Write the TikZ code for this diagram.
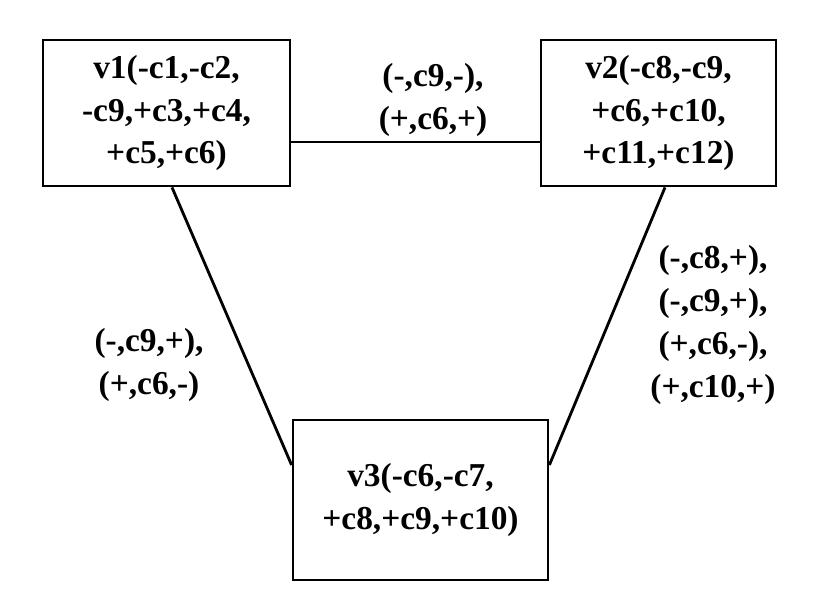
\documentclass[tikz,border=0pt]{standalone}
\usepackage{fontspec}
\setmainfont{Liberation Serif}
\usepackage{tikz}

\tikzset{
  vbox/.style={draw, thick, align=center, inner sep=0pt, font=\fontsize{9.5}{12.2}\selectfont\bfseries},
  elabel/.style={align=center, font=\fontsize{9.5}{12.2}\selectfont\bfseries}
}

\begin{document}
\begin{tikzpicture}
\useasboundingbox (0,0) rectangle (8.31,6.14);

\node[vbox, minimum width=2.47cm, minimum height=1.46cm] (v1) at (1.665, 5.01) {v1(-c1,-c2,\\-c9,+c3,+c4,\\+c5,+c6)};
\node[vbox, minimum width=2.35cm, minimum height=1.46cm] (v2) at (6.585, 5.01) {v2(-c8,-c9,\\+c6,+c10,\\+c11,+c12)};
\node[vbox, minimum width=2.55cm, minimum height=1.6cm] (v3) at (4.205, 1.14) {v3(-c6,-c7,\\+c8,+c9,+c10)};

\draw[thick] ([yshift=-0.29cm]v1.east) -- ([yshift=-0.29cm]v2.west);
\draw[thick] ([xshift=0.055cm]v1.south) -- ([yshift=0.35cm]v3.west);
\draw[thick] ([xshift=0.065cm]v2.south) -- ([yshift=0.35cm]v3.east);

\node[elabel] (l12) at (4.33, 5.14) {(-,c9,-),\\(+,c6,+)};
\node[elabel] (l13) at (1.49, 2.49) {(-,c9,+),\\(+,c6,-)};
\node[elabel] (l23) at (7.13, 2.89) {(-,c8,+),\\(-,c9,+),\\(+,c6,-),\\(+,c10,+)};
\end{tikzpicture}
\end{document}
